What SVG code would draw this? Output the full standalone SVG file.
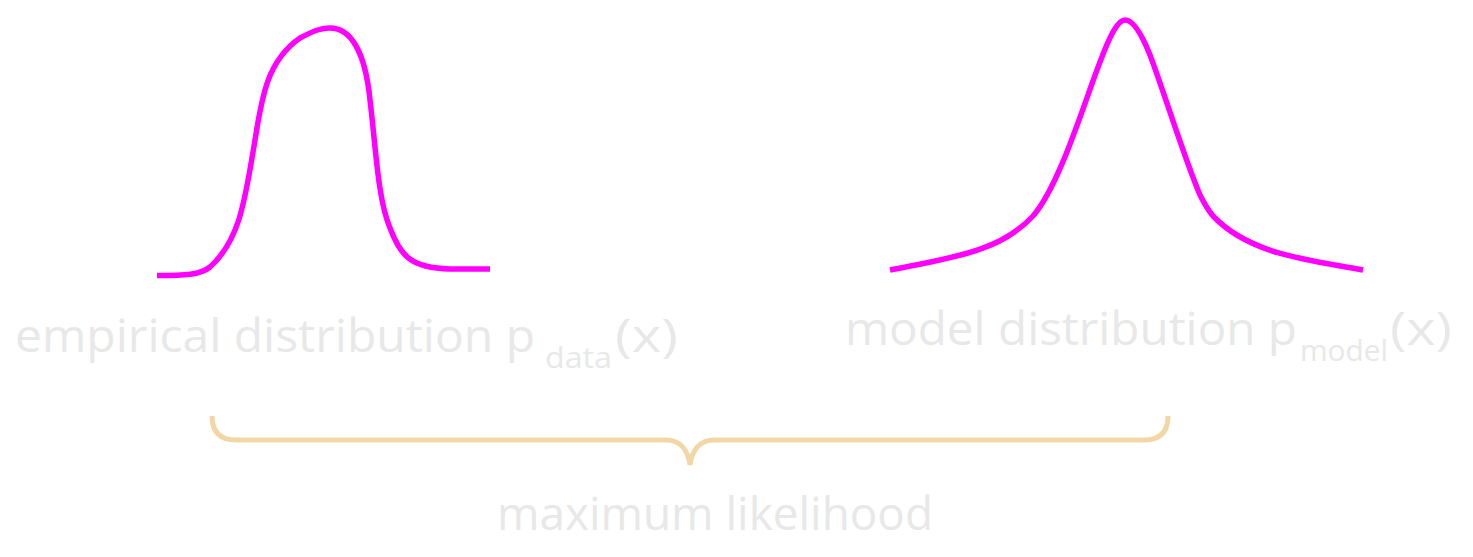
<svg xmlns="http://www.w3.org/2000/svg" width="1473" height="557" viewBox="0 0 1473 557">
<style>
.curve{fill:none;stroke:#ff00ff;stroke-width:5.5;stroke-linecap:butt;stroke-linejoin:round}
.brace{fill:none;stroke:#f3d6a6;stroke-width:5;stroke-linecap:butt}
.lbl{font-family:"Open Sans","DejaVu Sans",sans-serif;fill:#e8e8e8}
</style>
<rect width="1473" height="557" fill="#ffffff"/>
<g id="empirical">
<path class="curve" d="M157,275.5 C185,275.5 200,275 210,267 C240,240 245,200 255,140 C262,95 268,60 300,38 C315,30 322,28 330,28 C350,28 365,50 370,100 C376,150 378,200 390,228 C400,255 410,268 450,269 L490,269"/>
<text class="lbl" x="15" y="352" font-size="46" textLength="520" lengthAdjust="spacingAndGlyphs">empirical distribution p</text>
<text class="lbl" x="545" y="368" font-size="30" textLength="67" lengthAdjust="spacingAndGlyphs">data</text>
<text class="lbl" x="615" y="352" font-size="46" textLength="63" lengthAdjust="spacingAndGlyphs">(x)</text>
</g>
<g id="model">
<path class="curve" d="M890,270 C950,258 1000,252 1033,216 C1060,185 1085,100 1100,62 C1110,35 1118,20 1125,20 C1132,20 1140,30 1150,55 C1165,95 1185,160 1200,195 C1205,205 1208,210 1213,216 C1250,255 1310,260 1363,270"/>
<text class="lbl" x="845" y="345" font-size="46" textLength="452" lengthAdjust="spacingAndGlyphs">model distribution p</text>
<text class="lbl" x="1300" y="361" font-size="30" textLength="88" lengthAdjust="spacingAndGlyphs">model</text>
<text class="lbl" x="1390" y="345" font-size="46" textLength="62" lengthAdjust="spacingAndGlyphs">(x)</text>
</g>
<g id="connectors">
<path class="brace" d="M212,416 C212,432 220,440 236,440 L666,440 C680,440 688,450 690,465 C692,450 700,440 714,440 L1144,440 C1160,440 1168,432 1168,416"/>
</g>
<g id="maximum-likelihood">
<text class="lbl" x="497" y="530" font-size="46" textLength="436" lengthAdjust="spacingAndGlyphs">maximum likelihood</text>
</g>
</svg>
